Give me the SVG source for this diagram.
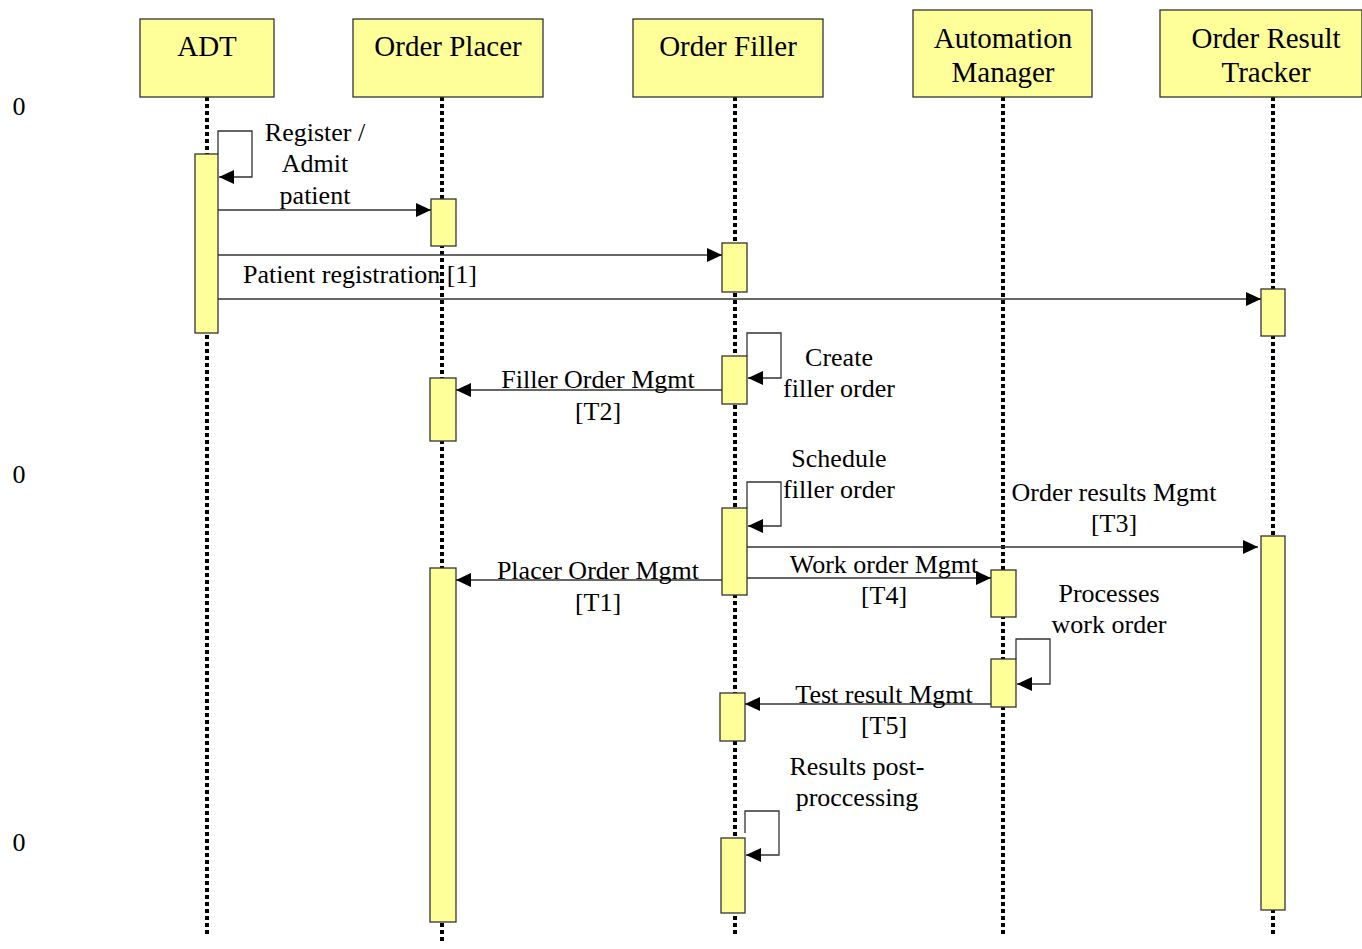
<svg xmlns="http://www.w3.org/2000/svg" width="1362" height="949" viewBox="0 0 1362 949">
<style>
.hdr{fill:#ffff99;stroke:#333;stroke-width:1.3}
.act{fill:#ffff99;stroke:#333;stroke-width:1.3}
.life{stroke:#000;stroke-width:4;stroke-dasharray:4 3;fill:none}
.msg{stroke:#333;stroke-width:1.3;fill:none}
text{font-family:'Liberation Serif','DejaVu Serif',serif;fill:#000;text-anchor:middle}
.h{font-size:29px}
.l{font-size:26px}
</style>
<defs>
<marker id="ah" markerWidth="16" markerHeight="14" refX="15" refY="7" orient="auto" markerUnits="userSpaceOnUse">
<path d="M0,0 L15,7 L0,14 Z" fill="#000"/>
</marker>
</defs>
<rect width="1362" height="949" fill="#fff"/>
<g id="lifelines">
<line class="life" x1="207" y1="97" x2="207" y2="936"/>
<line class="life" x1="442" y1="97" x2="442" y2="943"/>
<line class="life" x1="735" y1="97" x2="735" y2="936"/>
<line class="life" x1="1003" y1="97" x2="1003" y2="936"/>
<line class="life" x1="1273" y1="97" x2="1273" y2="936"/>
</g>
<g id="adt"><rect class="hdr" x="140" y="19" width="134" height="78"/><text class="h" font-family="Liberation Serif, serif" x="207" y="56">ADT</text></g>
<g id="order-placer"><rect class="hdr" x="353" y="19" width="190" height="78"/><text class="h" x="448" y="56">Order Placer</text></g>
<g id="order-filler"><rect class="hdr" x="633" y="19" width="190" height="78"/><text class="h" x="728" y="56">Order Filler</text></g>
<g id="automation-manager"><rect class="hdr" x="913" y="10" width="179" height="87"/><text class="h" x="1003" y="48">Automation</text><text class="h" x="1003" y="82">Manager</text></g>
<g id="order-result-tracker"><rect class="hdr" x="1160" y="10" width="202" height="87"/><text class="h" x="1266" y="48">Order Result</text><text class="h" x="1266" y="82">Tracker</text></g>
<g id="activations">
<rect class="act" x="195" y="154" width="23" height="179"/>
<rect class="act" x="431" y="199" width="25" height="47"/>
<rect class="act" x="722" y="243" width="25" height="49"/>
<rect class="act" x="1261" y="289" width="24" height="47"/>
<rect class="act" x="722" y="356" width="25" height="48"/>
<rect class="act" x="430" y="378" width="26" height="63"/>
<rect class="act" x="722" y="508" width="25" height="87"/>
<rect class="act" x="1261" y="536" width="24" height="374"/>
<rect class="act" x="430" y="568" width="26" height="354"/>
<rect class="act" x="991" y="570" width="25" height="47"/>
<rect class="act" x="991" y="659" width="25" height="48"/>
<rect class="act" x="720" y="693" width="25" height="48"/>
<rect class="act" x="721" y="838" width="24" height="75"/>
</g>
<g id="connectors">
<path class="msg" d="M218,154 V131 H252 V177 H219" marker-end="url(#ah)"/>
<line class="msg" x1="218" y1="210" x2="431" y2="210" marker-end="url(#ah)"/>
<line class="msg" x1="218" y1="255" x2="722" y2="255" marker-end="url(#ah)"/>
<line class="msg" x1="218" y1="299" x2="1261" y2="299" marker-end="url(#ah)"/>
<path class="msg" d="M747,356 V333 H781 V378 H748" marker-end="url(#ah)"/>
<line class="msg" x1="722" y1="390" x2="456" y2="390" marker-end="url(#ah)"/>
<path class="msg" d="M747,508 V482 H781 V526 H748" marker-end="url(#ah)"/>
<line class="msg" x1="747" y1="547" x2="1258" y2="547" marker-end="url(#ah)"/>
<line class="msg" x1="722" y1="580" x2="456" y2="580" marker-end="url(#ah)"/>
<line class="msg" x1="747" y1="578" x2="991" y2="578" marker-end="url(#ah)"/>
<path class="msg" d="M1016,659 V639 H1050 V684 H1017" marker-end="url(#ah)"/>
<line class="msg" x1="991" y1="704" x2="745" y2="704" marker-end="url(#ah)"/>
<path class="msg" d="M745,833 V811 H779 V855 H746" marker-end="url(#ah)"/>
</g>
<g id="labels">
<text class="l" x="315" y="141">Register /</text>
<text class="l" x="315" y="172">Admit</text>
<text class="l" x="315" y="204">patient</text>
<text class="l" x="360" y="283">Patient registration [1]</text>
<text class="l" x="839" y="366">Create</text>
<text class="l" x="839" y="397">filler order</text>
<text class="l" x="598" y="388">Filler Order Mgmt</text>
<text class="l" x="598" y="420">[T2]</text>
<text class="l" x="839" y="467">Schedule</text>
<text class="l" x="839" y="498">filler order</text>
<text class="l" x="1114" y="501">Order results Mgmt</text>
<text class="l" x="1114" y="532">[T3]</text>
<text class="l" x="598" y="579">Placer Order Mgmt</text>
<text class="l" x="598" y="611">[T1]</text>
<text class="l" x="884" y="573">Work order Mgmt</text>
<text class="l" x="884" y="604">[T4]</text>
<text class="l" x="1109" y="602">Processes</text>
<text class="l" x="1109" y="633">work order</text>
<text class="l" x="884" y="703">Test result Mgmt</text>
<text class="l" x="884" y="734">[T5]</text>
<text class="l" x="857" y="775">Results post-</text>
<text class="l" x="857" y="806">proccessing</text>
<text class="l" x="19" y="115">0</text>
<text class="l" x="19" y="483">0</text>
<text class="l" x="19" y="851">0</text>
</g>
</svg>
